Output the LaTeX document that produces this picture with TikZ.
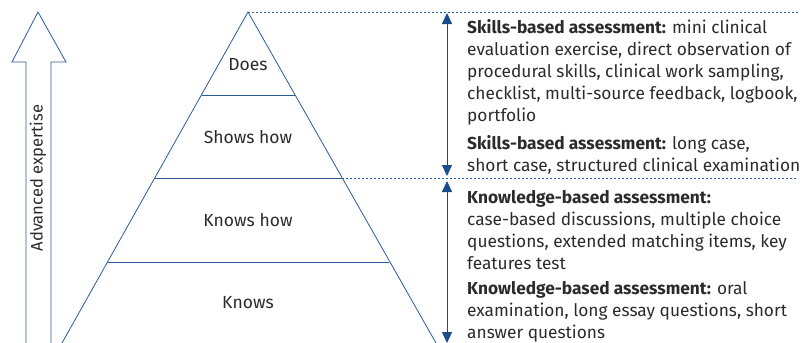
\documentclass[tikz,border=0pt]{standalone}
\usepackage{fontspec}
\setmainfont{Fira Sans}
\usetikzlibrary{arrows.meta}
\definecolor{lineBlue}{HTML}{2A5B9C}
\definecolor{tipBlue}{HTML}{1B4B8B}
\definecolor{textGray}{HTML}{2B2B2B}

\begin{document}
\begin{tikzpicture}[x=1pt,y=-1pt,
  level/.style={text=textGray,font=\fontsize{17.5}{20}\selectfont},
  block/.style={text=textGray,font=\fontsize{17.3}{22}\selectfont,align=left,anchor=base west,inner sep=0pt},
  span/.style={tipBlue,thick,{Triangle[width=10pt,length=11pt]}-{Triangle[width=10pt,length=11pt]}},
  guide/.style={lineBlue,thick,dash pattern=on 2pt off 2pt}]
\useasboundingbox (0,0) rectangle (807,343);
% big arrow
\draw[lineBlue,thick] (26,343) -- (26,62) -- (12,62) -- (38,12) -- (66,62) -- (51,62) -- (51,343);
\node[text=textGray,font=\fontsize{16.6}{20}\selectfont,rotate=90] (expertise) at (38,178) {Advanced expertise};
% pyramid
\coordinate (apex) at (248,12);
\coordinate (shL) at (155,178);
\coordinate (shR) at (342,178);
\draw[lineBlue,thick] (62,343) -- (apex) -- (436,343);
\draw[lineBlue,thick] (202,95) -- (295,95);
\draw[lineBlue,thick] (shL) -- (shR);
\draw[lineBlue,thick] (108,262) -- (389,262);
\node[level] (does) at (248,65) {Does};
\node[level] (showshow) at (248,137) {Shows how};
\node[level] (knowshow) at (248,220) {Knows how};
\node[level] (knows) at (248,303) {Knows};
% dotted guides
\coordinate (topEnd) at (798,12);
\coordinate (midEnd) at (798,178);
\draw[guide] (apex) -- (topEnd);
\draw[guide] (shR) -- (midEnd);
% spans
\coordinate (a1) at (447,13);
\coordinate (a2) at (447,176);
\coordinate (b1) at (447,181);
\coordinate (b2) at (447,343);
\draw[span] (a1) -- (a2);
\draw[span] (b1) -- (b2);
% assessment texts (placed at the baseline of their last line)
\node[block] (skillsA) at (467,121) {\textbf{Skills-based assessment:} mini clinical\\
evaluation exercise, direct observation of\\
procedural skills, clinical work sampling,\\
checklist, multi-source feedback, logbook,\\
portfolio};
\node[block] (skillsB) at (467,171) {\textbf{Skills-based assessment:} long case,\\
short case, structured clinical examination};
\node[block] (knowA) at (467,269) {\textbf{Knowledge-based assessment:}\\
case-based discussions, multiple choice\\
questions, extended matching items, key\\
features test};
\node[block] (knowB) at (467,338) {\textbf{Knowledge-based assessment:} oral\\
examination, long essay questions, short\\
answer questions};
\end{tikzpicture}
\end{document}
